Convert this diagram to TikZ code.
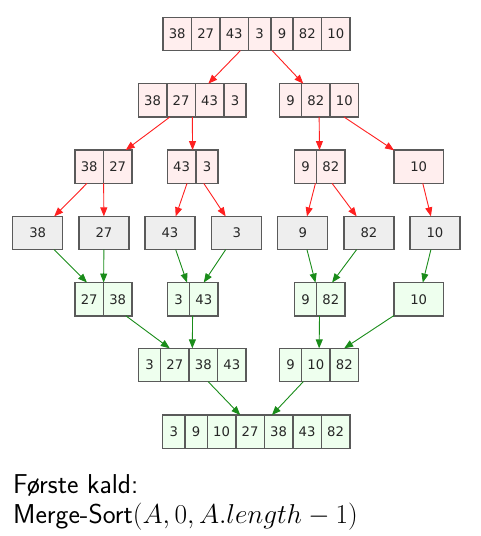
\RequirePackage{fix-cm}
\documentclass[tikz,border=0pt]{standalone}
\usepackage{fontspec}
\newfontfamily\numfont{DejaVu Sans}
\usetikzlibrary{arrows.meta,fit}
\definecolor{redfill}{HTML}{FFEEEE}
\definecolor{grayfill}{HTML}{EEEEEE}
\definecolor{greenfill}{HTML}{EEFFEE}
\definecolor{bordergray}{HTML}{5A5A5A}
\definecolor{edgered}{HTML}{FF2020}
\definecolor{edgegreen}{HTML}{1A8C1A}
\tikzset{
  cellbox/.style={draw=bordergray, line width=1.4pt, minimum height=33.3pt,
    inner sep=0pt, outer sep=0pt, font=\numfont\fontsize{13.2}{15}\selectfont, text=black!85},
  redcell/.style={cellbox, fill=redfill},
  graycell/.style={cellbox, fill=grayfill},
  greencell/.style={cellbox, fill=greenfill},
  recordbox/.style={inner sep=0pt, outer sep=0pt},
  splitedge/.style={draw=edgered, line width=0.9pt, -{Triangle[length=9pt,width=7pt]}},
  mergeedge/.style={draw=edgegreen, line width=0.9pt, -{Triangle[length=9pt,width=7pt]}},
  caption/.style={anchor=base west, inner sep=0pt, font=\sffamily\fontsize{27.3}{32}\selectfont}
}
% #1 name, #2 cell style, #3 left x, #4 center y, #5 cell values
\newcommand\mkrec[5]{%
  \coordinate (#1-p0) at (#3,#4);
  \foreach \v [count=\i, remember=\i as \j (initially 0)] in {#5} {
    \pgfmathsetmacro\w{\v<10 ? 22.3 : 28.5}
    \node[#2, minimum width=\w, anchor=west] (#1-c\i) at (#1-p\j) {\v};
    \coordinate (#1-p\i) at (#1-c\i.east);
    \xdef\lastcell{#1-c\i}
  }
  \node[recordbox, fit=(#1-c1)(\lastcell)] (#1) {};
}
\begin{document}
\begin{tikzpicture}[x=1pt,y=-1pt]
\useasboundingbox (0,0) rectangle (481,536);
% row 1
\mkrec{r1}{redcell}{163}{34}{38,27,43,3,9,82,10}
% row 2
\mkrec{r2a}{redcell}{138.3}{100.3}{38,27,43,3}
\mkrec{r2b}{redcell}{279.3}{100.3}{9,82,10}
% row 3
\mkrec{r3a}{redcell}{75}{166.7}{38,27}
\mkrec{r3b}{redcell}{167.3}{166.7}{43,3}
\mkrec{r3c}{redcell}{294.3}{166.7}{9,82}
\node[redcell, minimum width=49.3] (r3d) at (418.7,166.7) {10};
% row 4
\node[graycell, minimum width=50] (b38) at (37.7,233) {38};
\node[graycell, minimum width=50] (b27) at (104,233) {27};
\node[graycell, minimum width=50] (b43) at (170,233) {43};
\node[graycell, minimum width=50] (b3) at (236.7,233) {3};
\node[graycell, minimum width=50] (b9) at (302.7,233) {9};
\node[graycell, minimum width=50] (b82) at (369,233) {82};
\node[graycell, minimum width=50] (b10) at (435,233) {10};
% row 5
\mkrec{r5a}{greencell}{75}{299.2}{27,38}
\mkrec{r5b}{greencell}{167.3}{299.2}{3,43}
\mkrec{r5c}{greencell}{294.3}{299.2}{9,82}
\node[greencell, minimum width=49.3] (r5d) at (418.7,299.2) {10};
% row 6
\mkrec{r6a}{greencell}{138.3}{365}{3,27,38,43}
\mkrec{r6b}{greencell}{279.3}{365}{9,10,82}
% row 7
\mkrec{r7}{greencell}{162.7}{431.7}{3,9,10,27,38,43,82}
% split edges
\draw[splitedge] (r1) -- (r2a);
\draw[splitedge] (r1) -- (r2b);
\draw[splitedge] (r2a) -- (r3a);
\draw[splitedge] (r2a) -- (r3b);
\draw[splitedge] (r2b) -- (r3c);
\draw[splitedge] (r2b) -- (r3d);
\draw[splitedge] (r3a) -- (b38);
\draw[splitedge] (r3a) -- (b27);
\draw[splitedge] (r3b) -- (b43);
\draw[splitedge] (r3b) -- (b3);
\draw[splitedge] (r3c) -- (b9);
\draw[splitedge] (r3c) -- (b82);
\draw[splitedge] (r3d) -- (b10);
% merge edges
\draw[mergeedge] (b38) -- (r5a);
\draw[mergeedge] (b27) -- (r5a);
\draw[mergeedge] (b43) -- (r5b);
\draw[mergeedge] (b3) -- (r5b);
\draw[mergeedge] (b9) -- (r5c);
\draw[mergeedge] (b82) -- (r5c);
\draw[mergeedge] (b10) -- (r5d);
\draw[mergeedge] (r5a) -- (r6a);
\draw[mergeedge] (r5b) -- (r6a);
\draw[mergeedge] (r5c) -- (r6b);
\draw[mergeedge] (r5d) -- (r6b);
\draw[mergeedge] (r6a) -- (r7);
\draw[mergeedge] (r6b) -- (r7);
% caption
\node[caption] (t1) at (13,493.3) {Første kald:};
\node[caption] (t2) at (13,523.3) {Merge-Sort$(A, 0, A.length-1)$};
\end{tikzpicture}
\end{document}
